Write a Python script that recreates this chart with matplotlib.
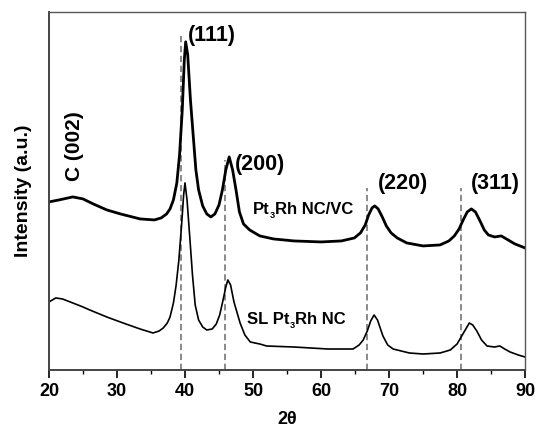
import matplotlib
matplotlib.use("Agg")
import matplotlib.pyplot as plt
from matplotlib.transforms import offset_copy

plt.rcParams["font.family"] = ["Liberation Sans", "DejaVu Sans"]
plt.rcParams["font.weight"] = "bold"

# Pt3Rh NC/VC pattern (upper curve)
top_x = [20.0, 21.5, 23.5, 25.0, 26.5, 28.5, 30.5, 33.4, 35.5, 36.5, 37.3, 37.8,
         38.3, 38.8, 39.2, 39.6, 39.9, 40.1, 40.4, 40.8, 41.2, 41.6, 42.0, 42.6,
         43.2, 43.8, 44.4, 45.0, 45.5, 46.0, 46.5, 47.0, 47.5, 48.0, 48.6, 49.5,
         51.0, 53.0, 56.0, 60.0, 63.0, 64.9, 65.8, 66.5, 67.0, 67.5, 67.9, 68.4,
         69.0, 69.6, 70.3, 71.2, 72.6, 75.0, 77.5, 78.8, 79.6, 80.3, 80.9, 81.5,
         82.1, 82.7, 83.3, 84.0, 84.6, 85.5, 86.5, 87.5, 88.5, 90.0]
top_y = [168, 170, 173, 171, 166, 160, 156, 151, 150, 152, 156, 161,
         170, 187, 215, 260, 310, 328, 315, 270, 235, 200, 180, 164,
         156, 153, 156, 165, 180, 200, 213, 200, 180, 158, 146, 140,
         134, 131, 129, 128, 129, 132, 137, 145, 155, 162, 164, 161,
         153, 144, 137, 132, 127, 124, 125, 129, 134, 141, 150, 158,
         161, 158, 150, 140, 135, 133, 134, 130, 126, 122]

# SL Pt3Rh NC pattern (lower curve)
bot_x = [20.0, 21.0, 22.0, 23.5, 25.0, 26.0, 28.5, 30.9, 33.4, 35.3, 36.2, 36.8,
         37.4, 37.8, 38.3, 38.7, 39.1, 39.5, 39.8, 40.0, 40.3, 40.7, 41.1, 41.5,
         42.0, 42.6, 43.2, 44.0, 44.6, 45.1, 45.6, 46.0, 46.3, 46.7, 47.2, 48.1,
         48.8, 49.6, 51.0, 52.0, 56.0, 61.0, 64.7, 65.6, 66.2, 66.8, 67.3, 67.8,
         68.3, 69.1, 69.8, 70.6, 73.0, 75.0, 77.5, 79.0, 80.0, 80.6, 81.2, 81.8,
         82.3, 82.9, 83.6, 84.4, 85.5, 86.3, 87.0, 87.8, 89.0, 90.0]
bot_y = [68, 72, 71, 67, 63, 60, 53, 47, 41, 37, 39, 42,
         47, 53, 67, 85, 110, 145, 175, 187, 170, 133, 95, 65,
         50, 43, 40, 41, 46, 55, 70, 83, 90, 85, 68, 47,
         35, 28, 26, 24, 23, 21, 21, 25, 30, 39, 49, 55,
         50, 34, 25, 21, 17, 16, 17, 20, 26, 33, 40, 47,
         45, 39, 30, 24, 23, 24, 21, 18, 15, 13]

# reference peak positions and the height of each dashed marker
ref_pos = [39.4, 45.9, 66.8, 80.6]
ref_top = [337, 210, 182, 182]

peak_labels = ["(111)", "(200)", "(220)", "(311)"]
peak_label_x = [40.45, 47.35, 68.4, 82.05]
peak_label_y = [334, 205, 186, 186]

sample_pre = ["SL Pt", "Pt"]
sample_post = ["Rh NC", "Rh NC/VC"]
sample_x = [49.1, 50.0]
sample_y = [50, 160]


def sub_label(ax, x, y, pre, post, size=12):
    # "Pt" + small lowered "3" + "Rh ..." written as three text pieces
    fig = ax.figure
    r = fig.canvas.get_renderer()
    t1 = ax.text(x, y, pre, fontsize=size, fontweight="bold", va="center")
    w1 = t1.get_window_extent(r).width * 72 / fig.dpi
    tr = offset_copy(ax.transData, fig=fig, x=w1, y=-4, units="points")
    t2 = ax.text(x, y, "3", fontsize=size * 0.55, fontweight="bold",
                 va="center", transform=tr)
    w2 = t2.get_window_extent(r).width * 72 / fig.dpi
    tr2 = offset_copy(ax.transData, fig=fig, x=w1 + w2, y=0, units="points")
    ax.text(x, y, post, fontsize=size, fontweight="bold", va="center", transform=tr2)


fig = plt.figure(figsize=(5.38, 4.29), dpi=100)
ax = fig.add_axes([0.091, 0.1375, 0.885, 0.835])

ax.vlines(ref_pos, 0, ref_top, colors="#808080", linestyles=(0, (3.5, 2)), lw=1.3)
ax.plot(top_x, top_y, color="k", lw=2.0)
ax.plot(bot_x, bot_y, color="k", lw=1.2)

ax.set_xlim(20, 90)
ax.set_ylim(0, 358)

for lab, lx, ly in zip(peak_labels, peak_label_x, peak_label_y):
    ax.text(lx, ly, lab, fontsize=15.5, fontweight="bold", ha="left", va="center")

ax.text(23.7, 224, "C (002)", fontsize=15, fontweight="bold", rotation=90,
        ha="center", va="center")
for pre, post, sx, sy in zip(sample_pre, sample_post, sample_x, sample_y):
    sub_label(ax, sx, sy, pre, post)

ax.set_xticks(range(20, 91, 10))
ax.set_xticks(range(25, 90, 10), minor=True)
ax.set_yticks([])
ax.tick_params(axis="x", which="major", length=6, width=1.2, labelsize=13, pad=3)
ax.tick_params(axis="x", which="minor", length=3, width=1.0)
for lbl in ax.get_xticklabels():
    lbl.set_fontweight("bold")

for side in ["left", "bottom"]:
    ax.spines[side].set_linewidth(1.4)
    ax.spines[side].set_color("#444444")
for side in ["top", "right"]:
    ax.spines[side].set_linewidth(1.0)
    ax.spines[side].set_color("#555555")

ax.set_xlabel("2θ", fontsize=13, fontweight="bold", labelpad=8)
ax.set_ylabel("Intensity (a.u.)", fontsize=14, fontweight="bold", labelpad=12)

fig.savefig("out.png", dpi=100)
